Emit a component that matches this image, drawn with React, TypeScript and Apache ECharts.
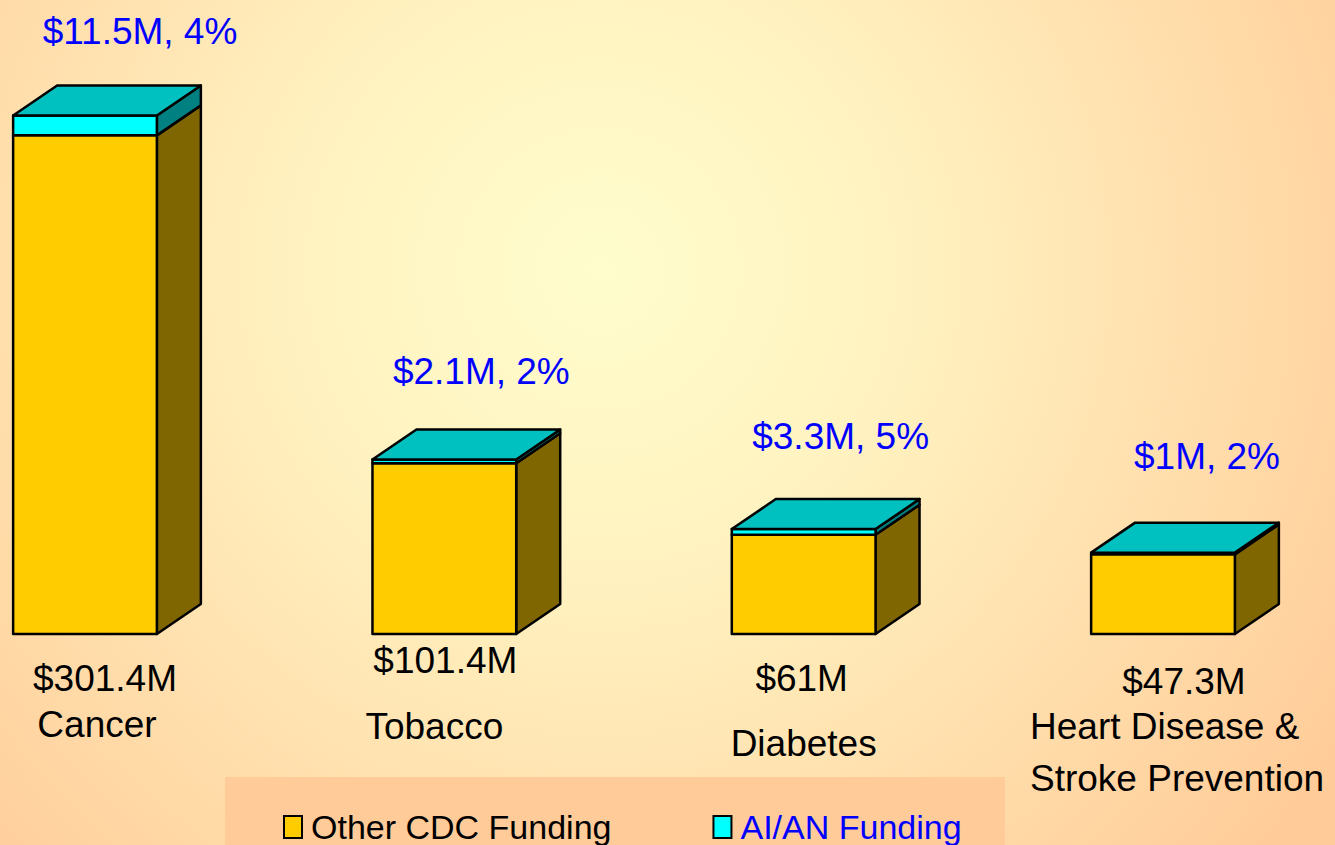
import React, { useEffect, useRef } from "react";
import * as echarts from "echarts";

// ---- data ----
const categories = ["Cancer", "Tobacco", "Diabetes", "Heart Disease &\nStroke Prevention"];
const totalFunding = [301.4, 101.4, 61, 47.3]; // $M, total CDC funding
const aianFunding = [11.5, 2.1, 3.3, 1]; // $M, AI/AN funding
const aianPercent = [4, 2, 5, 2]; // %
const seriesNames = ["Other CDC Funding", "AI/AN Funding"];

// ---- layout (label nudges relative to each bar) ----
const topLabelShift = [[55, -84], [37, -88], [37, -93], [44, -96]];
const valueLabelShift = [[20, 44], [1, 26], [-2, 44], [21, 47]];
const nameLabelShift = [[12, 90], [-10, 92], [0, 109], [-133, 118]];
const nameLabelAlign = ["center", "center", "center", "left"];

const DX = 44;
const DY = -30;
const FONT = "Liberation Sans, Arial, sans-serif";

const otherData = totalFunding.map((t, i) => [i, 0, t - aianFunding[i]]);
const aianData = totalFunding.map((t, i) => [i, t - aianFunding[i], t]);

function makeRender(front: string, side: string, top: string | null, withLabels: boolean) {
  return (params: any, api: any) => {
    const idx = api.value(0);
    const start = api.value(1);
    const end = api.value(2);
    const pb = api.coord([idx, start]);
    const pt = api.coord([idx, end]);
    const w = api.size([1, 0])[0] * 0.4;
    const cx = pb[0];
    const x0 = cx - w / 2;
    const x1 = cx + w / 2;
    const yb = pb[1];
    const yt = pt[1];
    const stroke = { stroke: "#000", lineWidth: 2.5, lineJoin: "round" };
    const children: any[] = [
      {
        type: "polygon",
        shape: { points: [[x1, yb], [x1 + DX, yb + DY], [x1 + DX, yt + DY], [x1, yt]] },
        style: { fill: side, ...stroke },
      },
      {
        type: "rect",
        shape: { x: x0, y: yt, width: w, height: yb - yt },
        style: { fill: front, ...stroke },
      },
    ];
    if (top) {
      children.push({
        type: "polygon",
        shape: { points: [[x0, yt], [x0 + DX, yt + DY], [x1 + DX, yt + DY], [x1, yt]] },
        style: { fill: top, ...stroke },
      });
    }
    if (withLabels) {
      const base = api.coord([idx, 0]);
      const i = params.dataIndex;
      children.push({
        type: "text",
        style: {
          text: `$${aianFunding[i]}M, ${aianPercent[i]}%`,
          x: cx + topLabelShift[i][0],
          y: yt + topLabelShift[i][1],
          fill: "#0000FF",
          fontSize: 37,
          fontFamily: FONT,
          align: "center",
          verticalAlign: "middle",
        },
      });
      children.push({
        type: "text",
        style: {
          text: `$${totalFunding[i]}M`,
          x: cx + valueLabelShift[i][0],
          y: base[1] + valueLabelShift[i][1],
          fill: "#000",
          fontSize: 37,
          fontFamily: FONT,
          align: "center",
          verticalAlign: "middle",
        },
      });
      children.push({
        type: "text",
        style: {
          text: categories[i],
          x: cx + nameLabelShift[i][0],
          y: base[1] + nameLabelShift[i][1],
          fill: "#000",
          fontSize: 37,
          lineHeight: 52,
          fontFamily: FONT,
          align: nameLabelAlign[i],
          verticalAlign: "middle",
        },
      });
    }
    return { type: "group", children };
  };
}

export default function App() {
  const ref = useRef<HTMLDivElement>(null);
  useEffect(() => {
    if (!ref.current) return;
    const chart = echarts.init(ref.current, null, { renderer: "svg" });
    chart.setOption({
      animation: false,
      graphic: [
        {
          type: "rect",
          z: -10,
          shape: { x: 0, y: 0, width: 1335, height: 845 },
          style: {
            fill: new echarts.graphic.RadialGradient(
              600,
              270,
              880,
              [
                { offset: 0, color: "#FFFDCC" },
                { offset: 0.35, color: "#FFF2C0" },
                { offset: 1, color: "#FFCC99" },
              ],
              true
            ),
          },
        },
        {
          type: "rect",
          z: -9,
          shape: { x: 225, y: 777, width: 780, height: 70 },
          style: { fill: "#FFCC99" },
        },
      ],
      grid: { left: 85, right: 172, top: 32, bottom: 211 },
      xAxis: { type: "value", min: 0, max: 3, show: false },
      yAxis: { type: "value", min: 0, max: 350, show: false },
      legend: {
        left: 283,
        top: 810,
        padding: 0,
        itemGap: 101,
        itemWidth: 18,
        itemHeight: 22,
        icon: "rect",
        itemStyle: { borderColor: "#000", borderWidth: 2 },
        textStyle: { fontSize: 34, fontFamily: FONT, lineHeight: 34, padding: [0, 0, 0, 4] },
        data: [
          { name: seriesNames[0], textStyle: { color: "#000" } },
          { name: seriesNames[1], textStyle: { color: "#0000FF" } },
        ],
      },
      series: [
        {
          type: "custom",
          name: seriesNames[0],
          itemStyle: { color: "#FFCC00" },
          encode: { x: 0, y: [1, 2] },
          data: otherData,
          renderItem: makeRender("#FFCC00", "#806600", null, false),
        },
        {
          type: "custom",
          name: seriesNames[1],
          itemStyle: { color: "#00FFFF" },
          encode: { x: 0, y: [1, 2] },
          data: aianData,
          renderItem: makeRender("#00FFFF", "#008080", "#00C0C0", true),
        },
      ],
    });
    return () => chart.dispose();
  }, []);
  return (
    <div
      ref={ref}
      style={{ position: "absolute", left: 0, top: 0, width: 1335, height: 845 }}
    />
  );
}
